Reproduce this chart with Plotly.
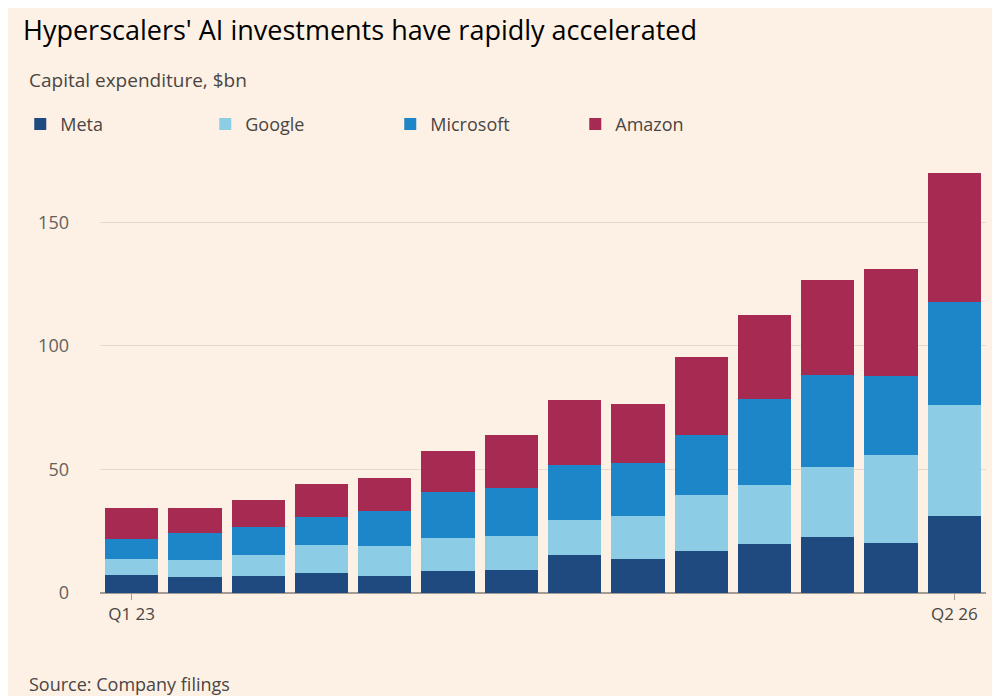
import plotly.graph_objects as go

quarters = ["Q1 23", "Q2 23", "Q3 23", "Q4 23", "Q1 24", "Q2 24", "Q3 24", "Q4 24",
            "Q1 25", "Q2 25", "Q3 25", "Q4 25", "Q1 26", "Q2 26"]
meta = [7.4, 6.6, 7.0, 8.2, 7.0, 9.0, 9.4, 15.2, 13.9, 17.2, 19.7, 22.5, 20.1, 31.1]
google = [6.5, 6.9, 8.2, 11.1, 11.9, 13.1, 13.6, 14.3, 17.2, 22.6, 24.2, 28.3, 35.6, 45.1]
microsoft = [7.8, 10.7, 11.4, 11.4, 14.3, 18.9, 19.6, 22.5, 21.4, 24.1, 34.8, 37.3, 32.0, 41.4]
amazon = [12.7, 10.2, 11.1, 13.6, 13.5, 16.4, 21.3, 26.3, 24.1, 31.6, 34.0, 38.5, 43.4, 52.4]

series = [("Meta", meta, "#1e4a80"), ("Google", google, "#8ccde5"),
          ("Microsoft", microsoft, "#1d86c8"), ("Amazon", amazon, "#a62a52")]

fig = go.Figure()
for name, vals, col in series:
    fig.add_trace(go.Bar(x=quarters, y=vals, name=name, marker_color=col,
                         marker_line_width=0))

fig.update_layout(
    barmode="stack", bargap=0.16,
    width=1000, height=696,
    paper_bgcolor="#fdf1e5", plot_bgcolor="#fdf1e5",
    font=dict(family="Open Sans, sans-serif", color="#33302e", size=17),
    margin=dict(l=88, r=22, t=160, b=111),
    title=dict(text="Hyperscalers' AI investments have rapidly accelerated",
               x=0.015, xanchor="left", y=0.968, yanchor="middle",
               font=dict(size=27, color="#000")),
    legend=dict(orientation="h", x=-0.09, xanchor="left", y=1.103, yanchor="middle",
                font=dict(size=18, color="#4a4543"), traceorder="normal",
                entrywidth=140),
    showlegend=True,
)
fig.update_yaxes(range=[0, 172], tickvals=[0, 50, 100, 150], gridcolor="#e6d9cd",
                 zeroline=True, zerolinecolor="#a39b94", ticks="", tickfont=dict(size=18, color="#66605c"),
                 ticklabelstandoff=30)
fig.update_xaxes(tickvals=["Q1 23", "Q2 26"], ticks="outside", ticklen=6,
                 tickcolor="#a39b94", tickfont=dict(size=17, color="#4a4543"),
                 showline=False)
fig.add_annotation(text="Capital expenditure, $bn", xref="paper", yref="paper",
                   x=-0.082, y=1.207, xanchor="left", yanchor="middle", showarrow=False,
                   font=dict(size=19, color="#4a4543"))
fig.add_annotation(text="Source: Company filings", xref="paper", yref="paper",
                   x=-0.082, y=-0.214, xanchor="left", yanchor="middle", showarrow=False,
                   font=dict(size=18, color="#4a4543"))
fig.write_html("out.html")
